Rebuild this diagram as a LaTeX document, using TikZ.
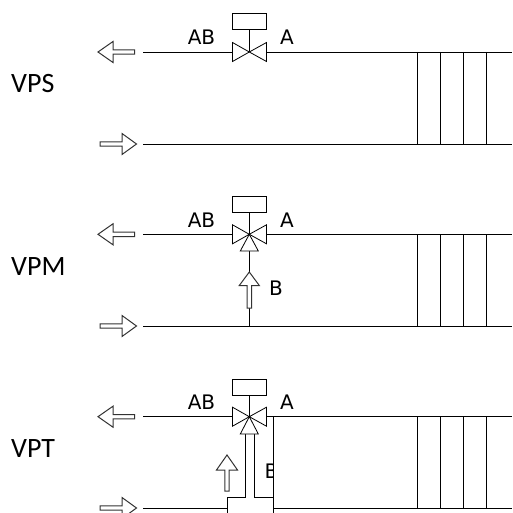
\documentclass[tikz,border=0pt]{standalone}
\usepackage{fontspec}
\setmainfont{Open Sans}
\newfontfamily\rowfont{Carlito}
\newfontfamily\lblfont{DejaVu Sans}
\begin{document}
\begin{tikzpicture}[x=1pt,y=-1pt,
  pipe/.style={draw=black,line width=0.8pt},
  blk/.style={draw=black,fill=white,line width=0.8pt,line join=miter},
  arr/.style={draw=black!80,fill=white,line width=1pt},
  lbl/.style={inner sep=0pt,font=\lblfont\fontsize{20}{22}\selectfont,text=black},
  rowlbl/.style={inner sep=0pt,font=\rowfont\fontsize{28}{30}\selectfont,text=black}]
\useasboundingbox (0,0) rectangle (512,513);
\fill[white] (0,0) rectangle (512,513);
\foreach \t/\b/\bx in {52/144/13.5, 234.3/326/196.5, 416.7/508/379}{
  \foreach \xx in {417.5,440.5,463.5,486.5}
    \draw[pipe] (\xx,\t) -- (\xx,\b);
  \draw[pipe] (143,\t) -- (232,\t);
  \draw[pipe] (266.5,\t) -- (512,\t);
  \draw[arr] (98,\t) -- (113,\t-10.5) -- (113,\t-2.2) -- (134.5,\t-2.2) -- (134.5,\t+2.2) -- (113,\t+2.2) -- (113,\t+10.5) -- cycle;
  \draw[arr] (136.5,\b) -- (122,\b-10.5) -- (122,\b-2.2) -- (100,\b-2.2) -- (100,\b+2.2) -- (122,\b+2.2) -- (122,\b+10.5) -- cycle;
  \draw[pipe] (249.3,\bx+16) -- (249.3,\t);
  \draw[blk] (232.5,\bx) rectangle (266.5,\bx+16);
  \draw[blk] (249.3,\t) -- (232.5,\t-9.5) -- (232.5,\t+9.5) -- cycle;
  \draw[blk] (249.3,\t) -- (266.5,\t-9.5) -- (266.5,\t+9.5) -- cycle;
  \node[lbl] at (201.5,\t-14.5) {AB};
  \node[lbl] at (287,\t-14.5) {A};
}
\draw[pipe] (143,144) -- (512,144);
\draw[pipe] (143,326) -- (512,326);
\draw[pipe] (249.3,251) -- (249.3,326);
\draw[blk] (249.3,234.3) -- (240.3,251) -- (258.3,251) -- cycle;
\draw[arr] (249.3,272) -- (239.3,285.5) -- (247.1,285.5) -- (247.1,308) -- (251.5,308) -- (251.5,285.5) -- (259.3,285.5) -- cycle;
\node[lbl] at (276,288) {B};
\draw[pipe] (143,508) -- (227,508) -- (227,497.7) -- (245,497.7) -- (245,434);
\draw[pipe] (227,508) -- (227,513);
\draw[pipe] (254.7,434) -- (254.7,497.7) -- (273,497.7);
\draw[pipe] (273,416.7) -- (273,513);
\draw[pipe] (273,508) -- (512,508);
\draw[blk] (249.3,416.7) -- (240.3,434) -- (258.3,434) -- cycle;
\draw[arr] (227,455) -- (216.5,470) -- (224.8,470) -- (224.8,491) -- (229.2,491) -- (229.2,470) -- (237.5,470) -- cycle;
\begin{scope}
  \clip (255,450) rectangle (273,490);
  \node[lbl,anchor=west] at (264.5,471) {B};
\end{scope}
\node[rowlbl,anchor=west] at (11,84) {VPS};
\node[rowlbl,anchor=west] at (11,266.5) {VPM};
\node[rowlbl,anchor=west] at (11,449) {VPT};
\end{tikzpicture}
\end{document}
